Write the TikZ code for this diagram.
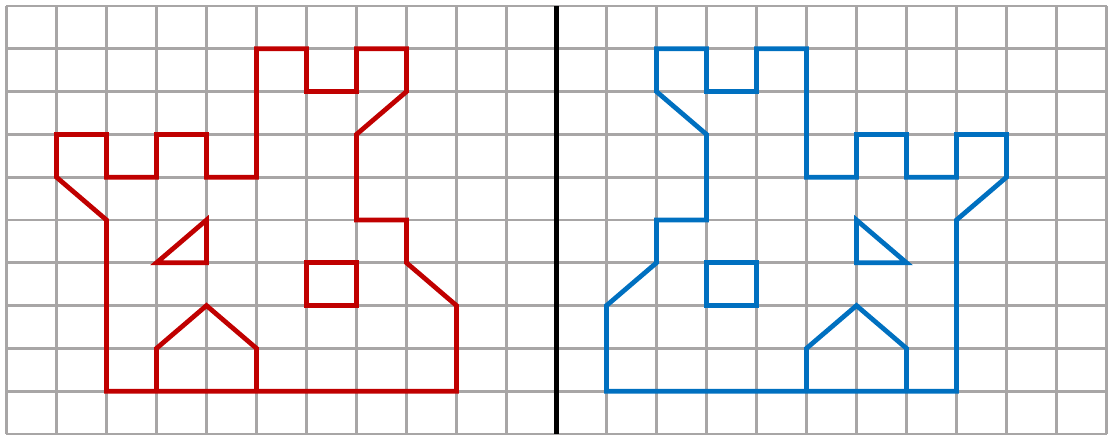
\documentclass[tikz,border=0pt]{standalone}
\usepackage{tikz}

\definecolor{rejilla}{RGB}{168,166,166}
\definecolor{rojo}{RGB}{192,0,0}
\definecolor{azul}{RGB}{0,112,192}

% Castillo: muro, ventana triangular, ventana cuadrada y puerta
\newcommand{\castillo}{%
	\draw (2,1) -- (9,1) -- (9,3) -- (8,4) -- (8,5) -- (7,5) -- (7,7) -- (8,8) -- (8,9) -- (7,9) -- (7,8) -- (6,8) -- (6,9) -- (5,9) -- (5,6) -- (4,6) -- (4,7) -- (3,7) -- (3,6) -- (2,6) -- (2,7) -- (1,7) -- (1,6) -- (2,5) -- cycle;
	\draw (3,4) -- (4,5) -- (4,4) -- cycle;
	\draw (6,3) rectangle (7,4);
	\draw (3,1) -- (3,2) -- (4,3) -- (5,2) -- (5,1);
}

\begin{document}
\begin{tikzpicture}[x=1cm, y=0.856cm]
			\useasboundingbox (-0.13,-0.035) rectangle (22.03,10.14);
			
			% Cuadricula
			\foreach \x in {0,...,22} {
				\draw[rejilla, line width=1.6pt] (\x,0) -- (\x,10);
			}
			\foreach \y in {0,...,10} {
				\draw[rejilla, line width=1.6pt] (0,\y) -- (22,\y);
			}
			
			% Eje de simetria
			\draw[black, line width=2.8pt] (11,0) -- (11,10);
			
			% Castillo original
			\begin{scope}[rojo, line width=2.7pt]
				\castillo
			\end{scope}
			
			% Castillo reflejado
			\begin{scope}[azul, line width=2.7pt, xshift=21cm, xscale=-1]
				\castillo
			\end{scope}
		\end{tikzpicture}
\end{document}
